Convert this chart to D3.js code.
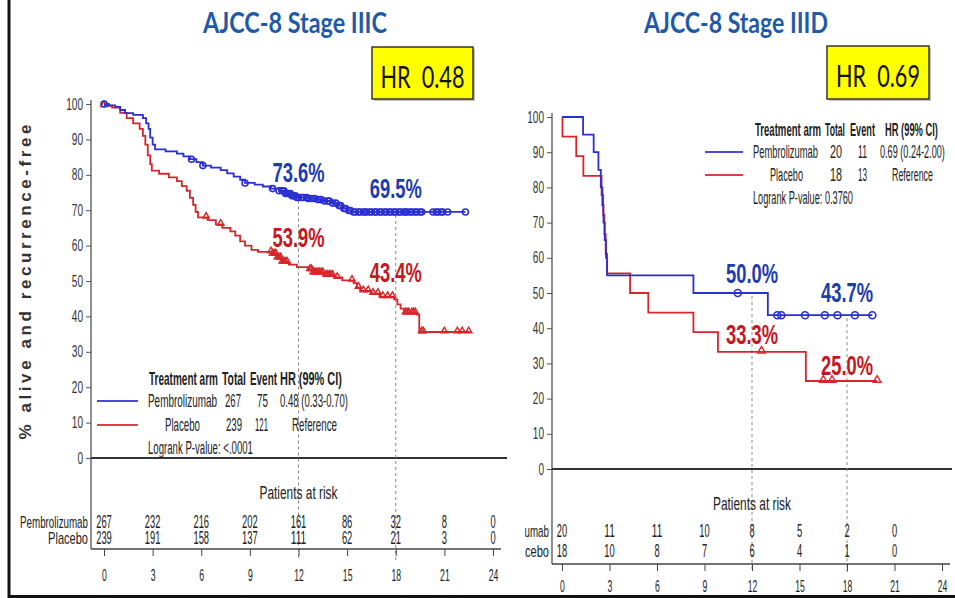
<!DOCTYPE html>
<html><head><meta charset="utf-8">
<script src="https://cdn.jsdelivr.net/npm/d3@7"></script>
<style>
body{margin:0;background:#fff;}
svg{display:block;}
</style></head><body>
<svg id="c" width="955" height="598"></svg>
<script>
// ---------- shared ----------
const timeTicks = [0, 3, 6, 9, 12, 15, 18, 21, 24];
const pctTicks = [0, 10, 20, 30, 40, 50, 60, 70, 80, 90, 100];
const armNames = ["Pembrolizumab", "Placebo"];
const legendHeader = ["Treatment arm", "Total", "Event", "HR (99% CI)"];
const landmarkTimes = [12, 18];

// ---------- Stage IIIC ----------
const c_title = "AJCC-8 Stage IIIC";
const c_hr = "HR\u00a0 0.48";
const c_pembroSteps = [[0,100],[0.3,99.6],[0.7,99.2],[1.0,98.3],[1.3,97.4],[1.8,96.9],[2.4,96.0],[2.6,94.5],[2.75,93.0],[2.85,90.5],[3.0,88.5],[3.15,87.2],[3.8,86.6],[4.5,86.0],[4.9,85.2],[5.3,84.4],[5.7,83.6],[6.1,82.6],[6.6,82.0],[7.2,81.3],[7.6,80.4],[8.0,79.5],[8.4,78.6],[8.7,77.7],[9.3,77.2],[9.8,76.7],[10.3,76.1],[10.8,75.5],[11.2,74.7],[11.6,74.1],[11.9,73.6],[12.6,73.3],[13.1,73.0],[13.5,72.6],[14.0,72.0],[14.5,71.3],[14.8,70.5],[15.1,69.9],[15.3,69.5],[22.3,69.5]];
const c_pembroCensor = [0,5.4,6.1,8.7,10.4,10.8,11.0,11.1,11.2,11.3,11.4,11.5,11.6,11.7,11.8,11.9,12.0,12.2,12.3,12.5,12.6,12.8,13.0,13.2,13.4,13.6,13.8,13.9,14.1,14.3,14.5,14.6,14.8,14.9,15.1,15.2,15.4,15.5,15.7,15.8,16.0,16.1,16.2,16.4,16.5,16.7,16.8,17.0,17.1,17.3,17.4,17.6,17.7,17.9,18.0,18.2,18.3,18.5,18.6,18.7,18.9,19.0,19.2,19.3,19.5,19.6,20.3,20.5,20.6,20.8,20.9,21.2,22.3];
const c_placeboSteps = [[0,99.5],[0.5,99.0],[1.0,97.5],[1.4,96.0],[1.8,94.5],[2.2,93.0],[2.4,91.0],[2.55,88.5],[2.7,85.5],[2.85,83.0],[2.95,81.2],[3.4,80.3],[4.0,79.3],[4.5,78.2],[4.8,76.8],[5.1,75.5],[5.3,73.5],[5.5,71.5],[5.65,69.5],[5.8,68.0],[6.4,67.2],[6.9,66.0],[7.3,65.0],[7.8,64.0],[8.1,62.8],[8.4,61.2],[8.7,60.0],[9.1,58.8],[9.5,58.2],[10.4,57.6],[10.7,56.5],[11.0,55.3],[11.4,54.6],[11.9,53.9],[12.6,53.2],[12.9,52.3],[13.6,51.6],[14.2,51.0],[14.7,50.2],[15.4,49.4],[15.6,48.2],[15.8,47.2],[16.5,46.5],[17.0,45.6],[17.9,44.8],[18.1,43.4],[18.3,42.2],[18.5,41.0],[19.3,40.5],[19.45,35.6],[22.6,35.6]];
const c_placeboCensor = [0,6.3,7.2,10.3,10.4,10.5,10.6,10.7,10.8,10.9,11.0,11.1,11.2,11.3,12.7,12.8,12.9,13.0,13.1,13.2,13.3,13.4,13.5,13.7,13.8,13.9,14.0,14.1,14.4,15.3,15.7,16.0,16.3,16.6,16.9,17.2,17.5,17.8,18.6,18.7,18.8,19.0,19.1,19.2,19.6,19.7,21.0,21.8,22.1,22.5];
const c_landmarkPembro = [73.6, 69.5];
const c_landmarkPlacebo = [53.9, 43.4];
const c_riskPembro = [267, 232, 216, 202, 161, 86, 32, 8, 0];
const c_riskPlacebo = [239, 191, 158, 137, 111, 62, 21, 3, 0];
const c_legendRows = [["Pembrolizumab","267","75","0.48 (0.33-0.70)"],["Placebo","239","121","Reference"]];
const c_logrank = "Logrank P-value: <.0001";

// ---------- Stage IIID ----------
const d_title = "AJCC-8 Stage IIID";
const d_hr = "HR\u00a0 0.69";
const d_pembroSteps = [[0,100],[1.33,95],[2.0,90],[2.3,85],[2.45,80],[2.55,75],[2.62,70],[2.7,65],[2.78,60],[2.85,55],[8.3,50],[13.0,43.7],[19.6,43.7]];
const d_pembroCensor = [11.1,13.6,13.85,15.35,16.6,17.4,18.5,19.6];
const d_placeboSteps = [[0,100],[0.03,94.4],[0.9,88.9],[1.35,83.3],[2.5,77.8],[2.6,72.2],[2.68,66.7],[2.76,61.1],[2.85,55.6],[4.3,50.0],[5.45,44.4],[8.3,38.9],[9.85,33.3],[15.4,25.0],[19.9,25.0]];
const d_placeboCensor = [12.6,16.5,17.05,19.9];
const d_landmarkPembro = [50.0, 43.7];
const d_landmarkPlacebo = [33.3, 25.0];
const d_riskPembro = [20, 11, 11, 10, 8, 5, 2, 0];
const d_riskPlacebo = [18, 10, 8, 7, 6, 4, 1, 0];
const d_legendRows = [["Pembrolizumab","20","11","0.69 (0.24-2.00)"],["Placebo","18","13","Reference"]];
const d_logrank = "Logrank P-value: 0.3760";

const yLabel = "% alive and recurrence-free";

// ---------- drawing ----------
const SANS = "'Liberation Sans', Arial, sans-serif";
const BLUE = "#2a2fd2", RED = "#d7262b", BLUE_T = "#1d3cae", RED_T = "#c8161e", TITLE = "#1f5aa8";
const svg = d3.select("#c");

// text squeezed horizontally to a target width with an explicit scale transform
function txt(g, x, y, s, o = {}) {
  const t = g.append("text").attr("x", 0).attr("y", 0).text(s)
    .attr("font-family", o.font || SANS)
    .attr("font-size", o.size || 14)
    .attr("font-weight", o.weight || "normal")
    .attr("fill", o.fill || "#222")
    .attr("text-anchor", o.anchor || "start");
  const len = o.len || (o.pc ? o.pc * String(s).length : 0);
  let sx = 1;
  if (len) sx = len / t.node().getComputedTextLength();
  t.attr("transform", `translate(${x},${y}) scale(${sx},1)`);
  return t;
}
function squeezeAxisText(sel, pc) {
  sel.each(function (d) {
    const t = d3.select(this);
    const w = this.getComputedTextLength();
    const sx = (String(d).length * pc) / w;
    const x0 = +t.attr("x") || 0;
    t.attr("x", x0 / sx).attr("transform", `scale(${sx},1)`);
  });
}

function stepVal(steps, t) {
  let v = steps[0][1];
  for (const s of steps) { if (s[0] <= t) v = s[1]; }
  return v;
}

function panel(cfg) {
  const g = svg.append("g");
  const x = d3.scaleLinear().domain([0, 24]).range(cfg.xr);
  const y = d3.scaleLinear().domain([0, 100]).range(cfg.yr);

  // title and HR box
  txt(g, cfg.titleX, 33, cfg.title, {font: "Lato, 'Open Sans', sans-serif", size: 29, weight: "bold", fill: TITLE, anchor: "middle", len: 184});
  g.append("rect").attr("x", cfg.hrBox[0] + 2).attr("y", cfg.hrBox[1] + 2).attr("width", cfg.hrBox[2]).attr("height", cfg.hrBox[3]).attr("fill", "#888").attr("opacity", 0.5);
  g.append("rect").attr("x", cfg.hrBox[0]).attr("y", cfg.hrBox[1]).attr("width", cfg.hrBox[2]).attr("height", cfg.hrBox[3]).attr("fill", "#ffff00").attr("stroke", "#333").attr("stroke-width", 1.5);
  txt(g, cfg.hrBox[0] + cfg.hrBox[2] / 2, cfg.hrBox[1] + 41, cfg.hr, {font: "Lato, 'Open Sans', sans-serif", size: 30, fill: "#111", anchor: "middle", len: 84});

  // y axis
  const ya = d3.axisLeft(y).tickValues(pctTicks).tickSize(5).tickPadding(3);
  const yg = g.append("g").attr("transform", `translate(${cfg.axisX},0)`).call(ya);
  yg.select(".domain").remove();
  yg.selectAll("line").attr("stroke", "#555");
  yg.selectAll("text").attr("font-family", SANS).attr("font-size", 16).attr("fill", "#333");
  squeezeAxisText(yg.selectAll("text"), 5.6);
  g.append("line").attr("x1", cfg.axisX).attr("x2", cfg.axisX).attr("y1", y(100) - 4).attr("y2", cfg.riskAxisY).attr("stroke", "#444").attr("stroke-width", 1.2);
  // zero baseline
  g.append("line").attr("x1", cfg.axisX).attr("x2", cfg.zeroEnd).attr("y1", y(0)).attr("y2", y(0)).attr("stroke", "#333").attr("stroke-width", 2);

  // landmark dashed lines
  landmarkTimes.forEach((t, i) => {
    g.append("line").attr("x1", x(t)).attr("x2", x(t)).attr("y1", y(cfg.lmP[i]) + 3).attr("y2", cfg.dashEnd)
      .attr("stroke", "#888").attr("stroke-width", 1).attr("stroke-dasharray", "3,3");
  });

  // curves
  const line = d3.line().x(d => x(d[0])).y(d => y(d[1])).curve(d3.curveStepAfter);
  g.append("path").datum(cfg.placebo).attr("d", line).attr("fill", "none").attr("stroke", RED).attr("stroke-width", 1.8);
  g.append("path").datum(cfg.pembro).attr("d", line).attr("fill", "none").attr("stroke", BLUE).attr("stroke-width", 1.8);

  // censor marks
  const tri = d3.symbol().type(d3.symbolTriangle).size(cfg.triSize);
  g.selectAll(null).data(cfg.placeboCensor).join("path")
    .attr("d", tri).attr("transform", t => `translate(${x(t)},${y(stepVal(cfg.placebo, t)) - 1})`)
    .attr("fill", "none").attr("stroke", RED).attr("stroke-width", 1.4);
  g.selectAll(null).data(cfg.pembroCensor).join("circle")
    .attr("cx", t => x(t)).attr("cy", t => y(stepVal(cfg.pembro, t))).attr("r", cfg.circR)
    .attr("fill", "none").attr("stroke", BLUE).attr("stroke-width", 1.6);

  // landmark percentages
  landmarkTimes.forEach((t, i) => {
    txt(g, x(t), cfg.lmPY[i], cfg.lmP[i].toFixed(1) + "%", {size: 27, weight: "bold", fill: BLUE_T, anchor: "middle", len: 52});
    txt(g, x(t), cfg.lmRY[i], cfg.lmR[i].toFixed(1) + "%", {size: 27, weight: "bold", fill: RED_T, anchor: "middle", len: 52});
  });

  // legend
  const L = cfg.leg;
  legendHeader.forEach((h, i) => txt(g, L.hx[i], L.hy, h, {size: 17.5, weight: "bold", len: L.hw[i]}));
  [cfg.legRows[0], cfg.legRows[1]].forEach((r, j) => {
    const yy = L.ry[j];
    g.append("line").attr("x1", L.lx[0]).attr("x2", L.lx[1]).attr("y1", yy - 6).attr("y2", yy - 6)
      .attr("stroke", j === 0 ? "#4a4adf" : "#dd4048").attr("stroke-width", 2.2);
    r.forEach((s, i) => txt(g, L.cx[j][i], yy, s, {size: 17.5, len: L.cw[j][i]}));
  });
  txt(g, L.cx[0][0], L.ly, cfg.logrank, {size: 17.5, len: L.lw});

  // risk table
  const clip = "clip" + cfg.id;
  svg.append("clipPath").attr("id", clip).append("rect").attr("x", cfg.clipX).attr("y", 0).attr("width", 955).attr("height", 598);
  const rg = g.append("g").attr("clip-path", `url(#${clip})`);
  txt(rg, x(12), cfg.riskTitleY, "Patients at risk", {size: 19, anchor: "middle", len: 78});
  [cfg.riskP, cfg.riskR].forEach((arr, j) => {
    txt(rg, cfg.axisX - 3, cfg.riskRowY[j], armNames[j], {size: 17, anchor: "end", len: j === 0 ? 68 : 40});
    arr.forEach((v, i) => txt(rg, x(timeTicks[i]), cfg.riskRowY[j], String(v), {size: 17.5, anchor: "middle", pc: 5.2}));
  });
  const xa = d3.axisBottom(x).tickValues(timeTicks).tickSize(7).tickPadding(cfg.tickPad);
  const xg = g.append("g").attr("transform", `translate(0,${cfg.riskAxisY})`).call(xa);
  xg.select(".domain").remove();
  xg.selectAll("line").attr("stroke", "#444");
  xg.selectAll("text").attr("font-family", SANS).attr("font-size", 17).attr("fill", "#222");
  squeezeAxisText(xg.selectAll("text"), 4.8);
  g.append("line").attr("x1", cfg.axisX).attr("x2", x(24) + 8).attr("y1", cfg.riskAxisY).attr("y2", cfg.riskAxisY).attr("stroke", "#444").attr("stroke-width", 1.5);
}

panel({
  id: "c", title: c_title, hr: c_hr, titleX: 295, hrBox: [372, 47, 101, 52],
  xr: [104, 493], yr: [458, 104], axisX: 91, zeroEnd: 507, riskAxisY: 549, dashEnd: 560, tickPad: 13,
  pembro: c_pembroSteps, placebo: c_placeboSteps, pembroCensor: c_pembroCensor, placeboCensor: c_placeboCensor,
  triSize: 18, circR: 3,
  lmP: c_landmarkPembro, lmR: c_landmarkPlacebo, lmPY: [182, 198], lmRY: [247, 282],
  leg: {hx: [149, 222, 250, 280], hw: [69, 24, 27, 62], hy: 385, ry: [407, 431], lx: [97, 138], ly: 454, lw: 105,
        cx: [[148, 225, 257, 280], [165, 226, 255, 292]], cw: [[69, 16, 11, 68], [35, 16, 13, 45]]},
  legRows: c_legendRows, logrank: c_logrank,
  riskP: c_riskPembro, riskR: c_riskPlacebo, riskTitleY: 499, riskRowY: [528, 544], clipX: 0
});

panel({
  id: "d", title: d_title, hr: d_hr, titleX: 736, hrBox: [827, 46, 102, 53],
  xr: [562, 942], yr: [469, 117], axisX: 552, zeroEnd: 952, riskAxisY: 564, dashEnd: 572, tickPad: 9,
  pembro: d_pembroSteps, placebo: d_placeboSteps, pembroCensor: d_pembroCensor, placeboCensor: d_placeboCensor,
  triSize: 26, circR: 3.5,
  lmP: d_landmarkPembro, lmR: d_landmarkPlacebo, lmPY: [283, 302], lmRY: [344, 375],
  leg: {hx: [755, 825, 850, 885], hw: [66, 20, 25, 53], hy: 136, ry: [158, 181], lx: [705, 743], ly: 204, lw: 100,
        cx: [[753, 830, 858, 880], [770, 830, 858, 892]], cw: [[65, 12, 9, 65], [33, 12, 9, 41]]},
  legRows: d_legendRows, logrank: d_logrank,
  riskP: d_riskPembro, riskR: d_riskPlacebo, riskTitleY: 510, riskRowY: [537, 557], clipX: 525
});

// y-axis title (left panel)
svg.append("text").attr("transform", "translate(31,282) rotate(-90)")
  .attr("text-anchor", "middle").attr("font-family", SANS)
  .attr("font-size", 17).attr("font-weight", "bold").attr("fill", "#333")
  .attr("textLength", 315).attr("lengthAdjust", "spacing").text(yLabel);

// outer frame of left picture and bottom border
svg.append("line").attr("x1", 9).attr("x2", 9).attr("y1", 0).attr("y2", 598).attr("stroke", "#111").attr("stroke-width", 3);
svg.append("line").attr("x1", 8).attr("x2", 955).attr("y1", 596.5).attr("y2", 596.5).attr("stroke", "#111").attr("stroke-width", 3);
</script></body></html>
